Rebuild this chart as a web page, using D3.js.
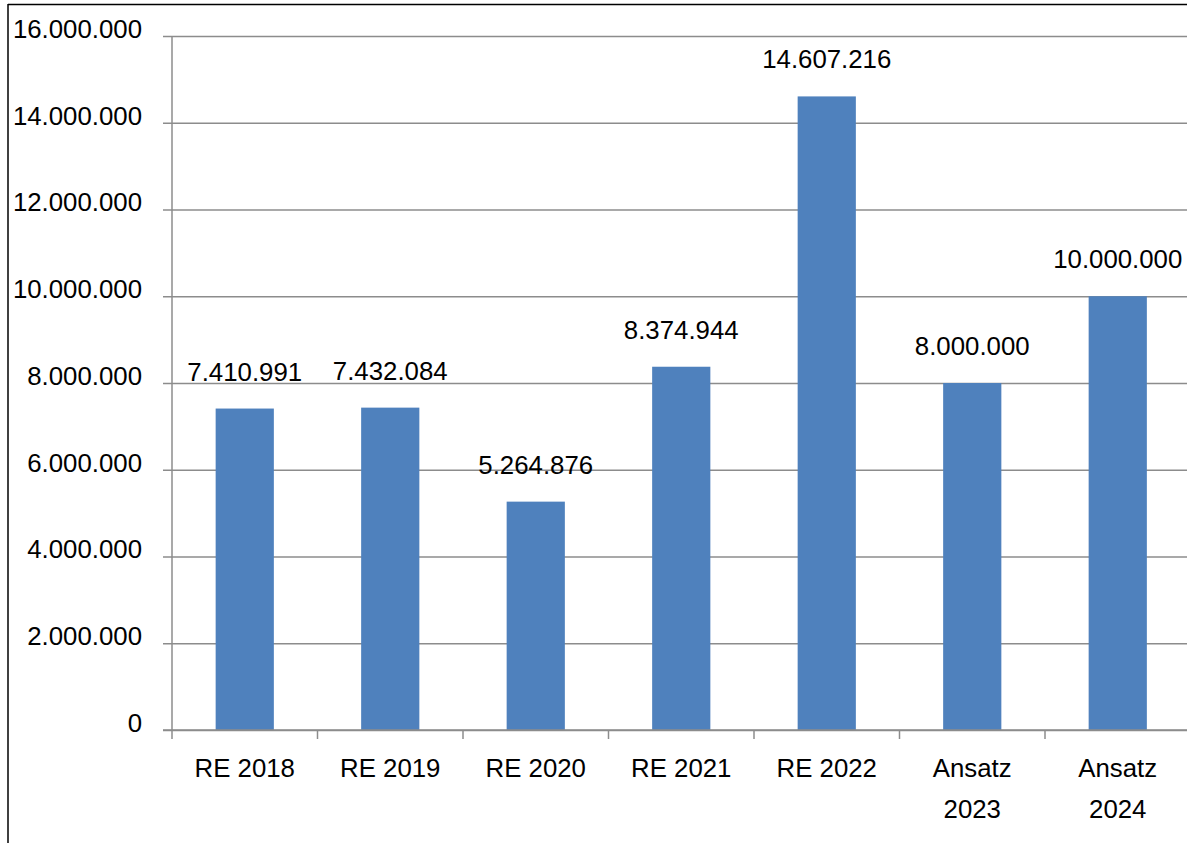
<!DOCTYPE html>
<html>
<head>
<meta charset="utf-8">
<script src="https://cdn.jsdelivr.net/npm/d3@7"></script>
<style>
  html, body { margin: 0; padding: 0; background: #fff; overflow: hidden; }
  svg { display: block; font-family: "Liberation Sans", Arial, sans-serif; }
</style>
</head>
<body>
<svg id="chart" width="1187" height="843"></svg>
<script>
const categories = [["RE 2018"], ["RE 2019"], ["RE 2020"], ["RE 2021"], ["RE 2022"], ["Ansatz", "2023"], ["Ansatz", "2024"]];
const values = [7410991, 7432084, 5264876, 8374944, 14607216, 8000000, 10000000];
const yTicks = [0, 2000000, 4000000, 6000000, 8000000, 10000000, 12000000, 14000000, 16000000];

const W = 1187, H = 843;
const margin = { left: 172, top: 36, bottom: 113, right: -3.5 };
const svg = d3.select("#chart");
const FS = 25.8;

const fmt = v => d3.format(",")(v).replace(/,/g, ".");

const x = d3.scaleBand()
  .domain(d3.range(categories.length))
  .range([margin.left, W - margin.right])
  .paddingInner(0.6).paddingOuter(0.3);
const y = d3.scaleLinear().domain([0, 16000000]).range([H - margin.bottom, margin.top]);

// outer frame (top and left border)
svg.append("line").attr("x1", 8).attr("x2", W).attr("y1", 4.5).attr("y2", 4.5)
  .attr("stroke", "#000").attr("stroke-width", 1.5);
svg.append("line").attr("x1", 8).attr("x2", 8).attr("y1", 4).attr("y2", H)
  .attr("stroke", "#000").attr("stroke-width", 1.5);

// gridlines + y axis
const yAxis = d3.axisLeft(y).tickValues(yTicks).tickFormat(fmt)
  .tickSize(-(W - margin.left + 20)).tickPadding(20);
const gy = svg.append("g").attr("transform", `translate(${margin.left},0)`).call(yAxis);
gy.select(".domain").remove();
gy.selectAll(".tick line").attr("stroke", "#8c8c8c").attr("stroke-width", 1.5).attr("x1", -9);
gy.selectAll(".tick text").attr("fill", "#000").attr("font-size", FS)
  .attr("x", -30).attr("dy", "0.05em");

// y axis line
svg.append("line").attr("x1", margin.left).attr("x2", margin.left)
  .attr("y1", y(16000000)).attr("y2", y(0))
  .attr("stroke", "#8c8c8c").attr("stroke-width", 1.5);

// bars
svg.append("g").selectAll("rect").data(values).join("rect")
  .attr("x", (d, i) => x(i))
  .attr("width", x.bandwidth())
  .attr("y", d => y(d))
  .attr("height", d => y(0) - y(d))
  .attr("fill", "#4F81BD");

// x axis baseline + ticks
const step = x.step();
svg.append("line").attr("x1", margin.left - 9).attr("x2", W)
  .attr("y1", y(0)).attr("y2", y(0)).attr("stroke", "#8c8c8c").attr("stroke-width", 1.5);
svg.append("g").selectAll("line").data(d3.range(categories.length + 1)).join("line")
  .attr("x1", i => margin.left + i * step).attr("x2", i => margin.left + i * step)
  .attr("y1", y(0)).attr("y2", y(0) + 9)
  .attr("stroke", "#8c8c8c").attr("stroke-width", 1.5);

// category labels
const cl = svg.append("g").selectAll("text").data(categories).join("text")
  .attr("text-anchor", "middle").attr("font-size", FS).attr("fill", "#000")
  .attr("x", (d, i) => x(i) + x.bandwidth() / 2)
  .attr("y", y(0) + 47);
cl.selectAll("tspan").data(d => d).join("tspan")
  .attr("x", function () { return this.parentNode.getAttribute("x"); })
  .attr("dy", (d, j) => j === 0 ? 0 : 41)
  .text(d => d);

// value labels
svg.append("g").selectAll("text").data(values).join("text")
  .attr("text-anchor", "middle").attr("font-size", FS).attr("fill", "#000")
  .attr("x", (d, i) => x(i) + x.bandwidth() / 2)
  .attr("y", d => y(d) - 28)
  .text(fmt);
</script>
</body>
</html>
